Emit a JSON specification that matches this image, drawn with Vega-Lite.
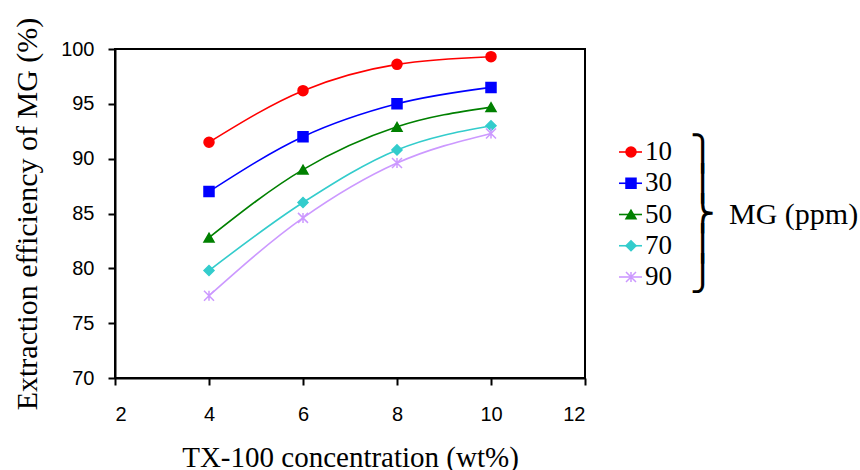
{
  "$schema": "https://vega.github.io/schema/vega-lite/v6.json",
  "background": "white",
  "padding": {"left": 11, "top": 16, "right": 0, "bottom": 0},
  "spacing": 0,
  "datasets": {
    "d": [
      {"series": "10", "x": 4, "y": 91.5},
      {"series": "10", "x": 6, "y": 96.2},
      {"series": "10", "x": 8, "y": 98.6},
      {"series": "10", "x": 10, "y": 99.3},
      {"series": "30", "x": 4, "y": 87.0},
      {"series": "30", "x": 6, "y": 92.0},
      {"series": "30", "x": 8, "y": 95.0},
      {"series": "30", "x": 10, "y": 96.5},
      {"series": "50", "x": 4, "y": 82.8},
      {"series": "50", "x": 6, "y": 89.0},
      {"series": "50", "x": 8, "y": 92.9},
      {"series": "50", "x": 10, "y": 94.7},
      {"series": "70", "x": 4, "y": 79.8},
      {"series": "70", "x": 6, "y": 86.0},
      {"series": "70", "x": 8, "y": 90.8},
      {"series": "70", "x": 10, "y": 93.0},
      {"series": "90", "x": 4, "y": 77.5},
      {"series": "90", "x": 6, "y": 84.6},
      {"series": "90", "x": 8, "y": 89.6},
      {"series": "90", "x": 10, "y": 92.3}
    ],
    "leg": [
      {"series": "10"}, {"series": "30"}, {"series": "50"}, {"series": "70"}, {"series": "90"}
    ],
    "legtitle": [
      {"label": "MG (ppm)", "brace": ["⎫", "⎪", "⎬", "⎪", "⎭"]}
    ]
  },
  "hconcat": [
    {
      "width": 470,
      "height": 329,
      "data": {"name": "d"},
      "encoding": {
        "x": {"field": "x", "type": "quantitative",
              "scale": {"domain": [2, 12], "nice": false},
              "axis": {"values": [2, 4, 6, 8, 10, 12], "labelPadding": 19, "titlePadding": 19, "titleFontSize": 29},
              "title": "TX-100 concentration (wt%)"},
        "y": {"field": "y", "type": "quantitative",
              "scale": {"domain": [70, 100], "zero": false, "nice": false},
              "axis": {"values": [70, 75, 80, 85, 90, 95, 100], "labelPadding": 14, "titlePadding": 18, "titleFontSize": 30},
              "title": "Extraction efficiency of MG (%)"},
        "color": {"field": "series", "type": "nominal", "legend": null,
                  "scale": {"domain": ["10", "30", "50", "70", "90"], "range": ["#FF0000", "#0000FF", "#008000", "#33CCCC", "#CC99FF"]}}
      },
      "layer": [
        {"mark": {"type": "line", "interpolate": "monotone", "strokeWidth": 1.6}},
        {"mark": {"type": "point", "filled": true, "size": 100, "strokeWidth": 1.5, "opacity": 1},
         "encoding": {
           "shape": {"field": "series", "type": "nominal", "legend": null,
                     "scale": {"domain": ["10", "30", "50", "70", "90"], "range": ["circle", "square", "triangle-up", "diamond", "M-1,-1L1,1M-1,1L1,-1M0,-1L0,1"]}},
           "stroke": {"field": "series", "type": "nominal", "legend": null,
                      "scale": {"domain": ["10", "30", "50", "70", "90"], "range": ["#FF0000", "#0000FF", "#008000", "#33CCCC", "#CC99FF"]}}
         }}
      ]
    },
    {
      "width": 270,
      "height": 329,
      "view": {"stroke": null},
      "encoding": {
        "y": {"field": "series", "type": "ordinal", "axis": null,
              "scale": {"type": "point", "domain": ["10", "30", "50", "70", "90"], "range": [103, 228], "padding": 0}}
      },
      "layer": [
        {"data": {"name": "leg"},
         "mark": {"type": "rule", "strokeWidth": 1.6},
         "encoding": {
           "x": {"datum": 32, "type": "quantitative", "scale": {"domain": [0, 270], "nice": false}, "axis": null},
           "x2": {"datum": 55},
           "color": {"field": "series", "type": "nominal", "legend": null,
                     "scale": {"domain": ["10", "30", "50", "70", "90"], "range": ["#FF0000", "#0000FF", "#008000", "#33CCCC", "#CC99FF"]}}
         }},
        {"data": {"name": "leg"},
         "mark": {"type": "point", "filled": true, "size": 100, "strokeWidth": 1.5, "opacity": 1},
         "encoding": {
           "x": {"datum": 44, "type": "quantitative"},
           "color": {"field": "series", "type": "nominal", "legend": null},
           "shape": {"field": "series", "type": "nominal", "legend": null,
                     "scale": {"domain": ["10", "30", "50", "70", "90"], "range": ["circle", "square", "triangle-up", "diamond", "M-1,-1L1,1M-1,1L1,-1M0,-1L0,1"]}},
           "stroke": {"field": "series", "type": "nominal", "legend": null}
         }},
        {"data": {"name": "leg"},
         "mark": {"type": "text", "align": "left", "baseline": "middle", "font": "Liberation Serif", "fontSize": 27, "color": "black"},
         "encoding": {
           "x": {"datum": 58, "type": "quantitative"},
           "text": {"field": "series"}
         }},
        {"data": {"name": "legtitle"},
         "mark": {"type": "text", "align": "left", "baseline": "middle", "font": "DejaVu Sans", "fontSize": 34, "lineHeight": 30, "dy": -60, "color": "black"},
         "encoding": {
           "x": {"datum": 103, "type": "quantitative"},
           "y": {"datum": "50"},
           "text": {"field": "brace"}
         }},
        {"data": {"name": "legtitle"},
         "mark": {"type": "text", "align": "left", "baseline": "middle", "font": "Liberation Serif", "fontSize": 30, "color": "black"},
         "encoding": {
           "x": {"datum": 142, "type": "quantitative"},
           "y": {"datum": "50"},
           "text": {"field": "label"}
         }}
      ]
    }
  ],
  "config": {
    "axis": {"grid": false, "domainColor": "black", "domainWidth": 2, "tickColor": "black", "tickWidth": 2, "tickSize": 7,
             "labelFont": "Liberation Sans", "labelFontSize": 20, "labelColor": "black",
             "titleFont": "Liberation Serif", "titleFontSize": 28, "titleFontWeight": "normal", "titleColor": "black"},
    "view": {"stroke": "black", "strokeWidth": 2}
  }
}
